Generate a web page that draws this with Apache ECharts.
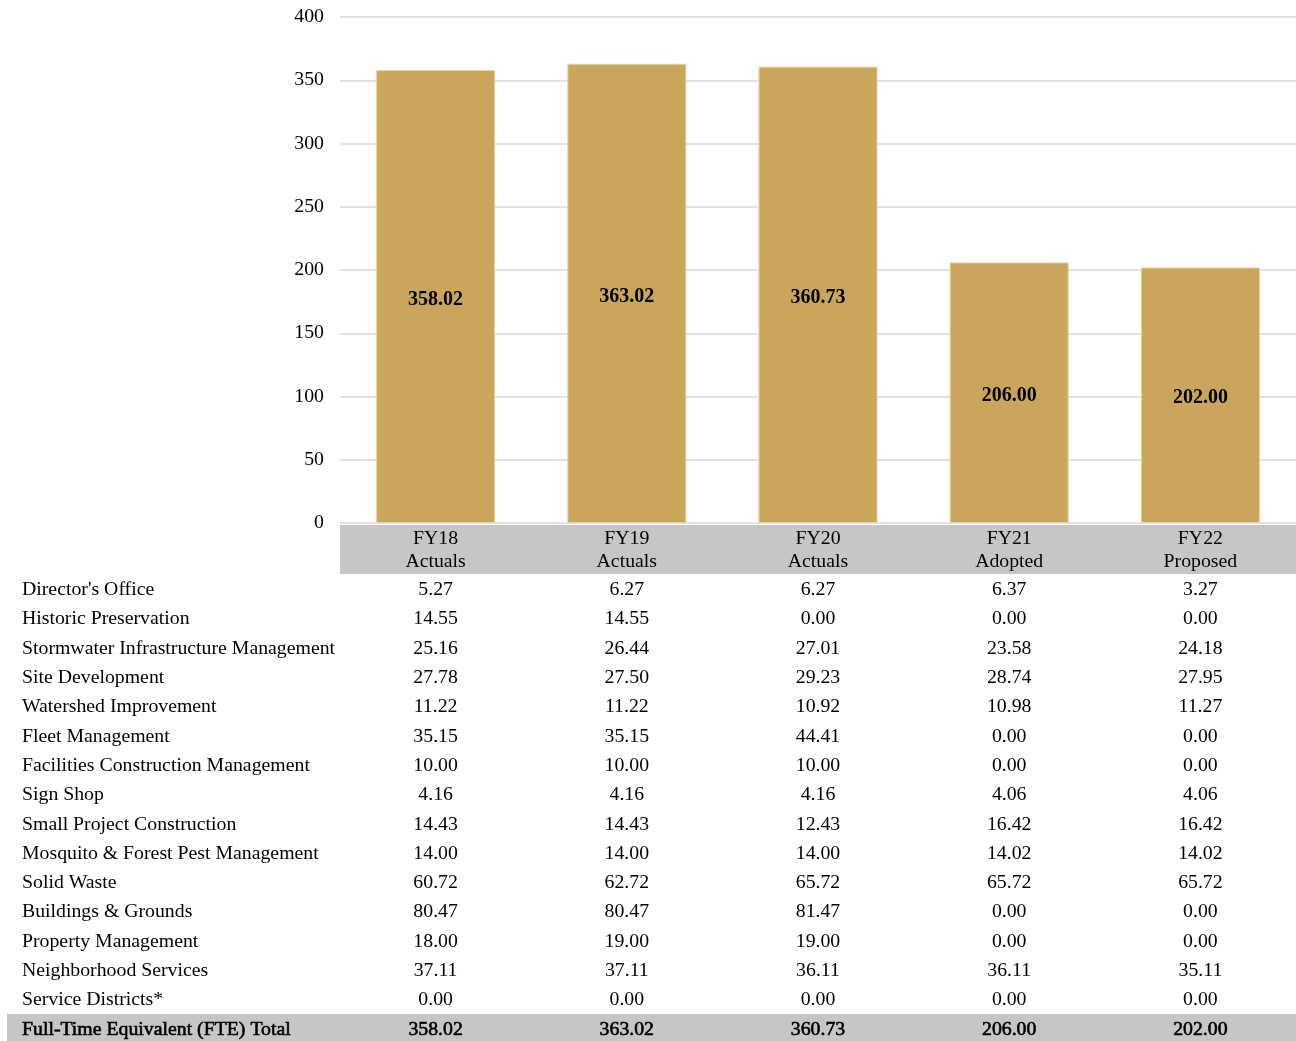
<!DOCTYPE html>
<html>
<head>
<meta charset="utf-8">
<script src="https://cdn.jsdelivr.net/npm/echarts@6/dist/echarts.min.js"></script>
<style>
  html, body { margin: 0; padding: 0; background: #fff; }
  #chart { width: 1296px; height: 1041px; }
</style>
</head>
<body>
<div id="chart"></div>
<script>
// Fiscal-year columns
const years = ['FY18', 'FY19', 'FY20', 'FY21', 'FY22'];
const yearTypes = ['Actuals', 'Actuals', 'Actuals', 'Adopted', 'Proposed'];

// Total FTE per year (bar heights)
const totals = [358.02, 363.02, 360.73, 206.00, 202.00];

// Program rows of the FTE table
const programs = [
  "Director's Office",
  'Historic Preservation',
  'Stormwater Infrastructure Management',
  'Site Development',
  'Watershed Improvement',
  'Fleet Management',
  'Facilities Construction Management',
  'Sign Shop',
  'Small Project Construction',
  'Mosquito & Forest Pest Management',
  'Solid Waste',
  'Buildings & Grounds',
  'Property Management',
  'Neighborhood Services',
  'Service Districts*'
];
const fy18 = [5.27, 14.55, 25.16, 27.78, 11.22, 35.15, 10.00, 4.16, 14.43, 14.00, 60.72, 80.47, 18.00, 37.11, 0.00];
const fy19 = [6.27, 14.55, 26.44, 27.50, 11.22, 35.15, 10.00, 4.16, 14.43, 14.00, 62.72, 80.47, 19.00, 37.11, 0.00];
const fy20 = [6.27, 0.00, 27.01, 29.23, 10.92, 44.41, 10.00, 4.16, 12.43, 14.00, 65.72, 81.47, 19.00, 36.11, 0.00];
const fy21 = [6.37, 0.00, 23.58, 28.74, 10.98, 0.00, 0.00, 4.06, 16.42, 14.02, 65.72, 0.00, 0.00, 36.11, 0.00];
const fy22 = [3.27, 0.00, 24.18, 27.95, 11.27, 0.00, 0.00, 4.06, 16.42, 14.02, 65.72, 0.00, 0.00, 35.11, 0.00];
const totalLabel = 'Full-Time Equivalent (FTE) Total';

// Y axis ticks
const yMin = 0, yMax = 400, yStep = 50;

const FONT = '"Liberation Serif", "Times New Roman", serif';
const FS = 19.8;
const BAR = '#CAA65C';
const GRAY = '#C6C6C6';

const chart = echarts.init(document.getElementById('chart'), null, { renderer: 'canvas' });

const gridLeft = 340, gridTop = 17, gridBottomY = 523, width = 1296;

chart.setOption({
  animation: false,
  backgroundColor: '#fff',
  grid: { left: gridLeft, right: 0, top: gridTop, bottom: 1041 - gridBottomY, containLabel: false },
  xAxis: {
    type: 'category',
    data: years,
    axisLine: { show: false },
    axisTick: { show: false },
    axisLabel: { show: false }
  },
  yAxis: {
    type: 'value',
    min: yMin, max: yMax, interval: yStep,
    axisLine: { show: false },
    axisTick: { show: false },
    axisLabel: { color: '#000', fontFamily: FONT, fontSize: FS, margin: 16, padding: [2, 0, 0, 0] },
    splitLine: { lineStyle: { color: '#D9D9D9', width: 1.5 } }
  },
  series: [{
    type: 'bar',
    data: totals,
    barWidth: 119,
    itemStyle: { color: BAR, borderColor: '#E9D3A0', borderWidth: 1 },
    label: {
      show: true,
      position: 'inside',
      offset: [0, 3],
      formatter: p => p.value.toFixed(2),
      color: '#000',
      fontFamily: FONT,
      fontWeight: 'bold',
      fontSize: 20
    }
  }]
});

// Table drawn beneath the plot, columns aligned to the category axis
const colX = years.map((_, i) => chart.convertToPixel({ xAxisIndex: 0 }, i));
const elements = [];

// Header band
elements.push({
  type: 'rect', shape: { x: gridLeft, y: 525, width: width - gridLeft, height: 49 },
  style: { fill: GRAY }, z: 1
});
years.forEach((y, i) => {
  elements.push({
    type: 'text', x: colX[i], y: 550, z: 2,
    style: { text: y + '\n' + yearTypes[i], fill: '#000', font: FS + 'px ' + FONT,
      align: 'center', verticalAlign: 'middle', lineHeight: 23 }
  });
});

// Program rows
const cols = [fy18, fy19, fy20, fy21, fy22];
const rowTop = 590, rowStep = 29.3;
programs.forEach((name, r) => {
  const yy = rowTop + r * rowStep;
  elements.push({
    type: 'text', x: 22, y: yy, z: 2,
    style: { text: name, fill: '#000', font: FS + 'px ' + FONT, align: 'left', verticalAlign: 'middle' }
  });
  cols.forEach((col, c) => {
    elements.push({
      type: 'text', x: colX[c], y: yy, z: 2,
      style: { text: col[r].toFixed(2), fill: '#000', font: FS + 'px ' + FONT, align: 'center', verticalAlign: 'middle' }
    });
  });
});

// Total row: regular face with a thin stroke for emphasis
const totalY = rowTop + programs.length * rowStep;
const totalStyle = { fill: '#000', stroke: '#000', lineWidth: 0.6, font: FS + 'px ' + FONT, verticalAlign: 'middle' };
elements.push({
  type: 'rect', shape: { x: 7, y: 1014, width: width - 7, height: 27 },
  style: { fill: GRAY }, z: 1
});
elements.push({
  type: 'text', x: 22, y: totalY, z: 2,
  style: Object.assign({ text: totalLabel, align: 'left' }, totalStyle)
});
totals.forEach((v, c) => {
  elements.push({
    type: 'text', x: colX[c], y: totalY, z: 2,
    style: Object.assign({ text: v.toFixed(2), align: 'center' }, totalStyle)
  });
});

chart.setOption({ graphic: { elements } });
</script>
</body>
</html>
